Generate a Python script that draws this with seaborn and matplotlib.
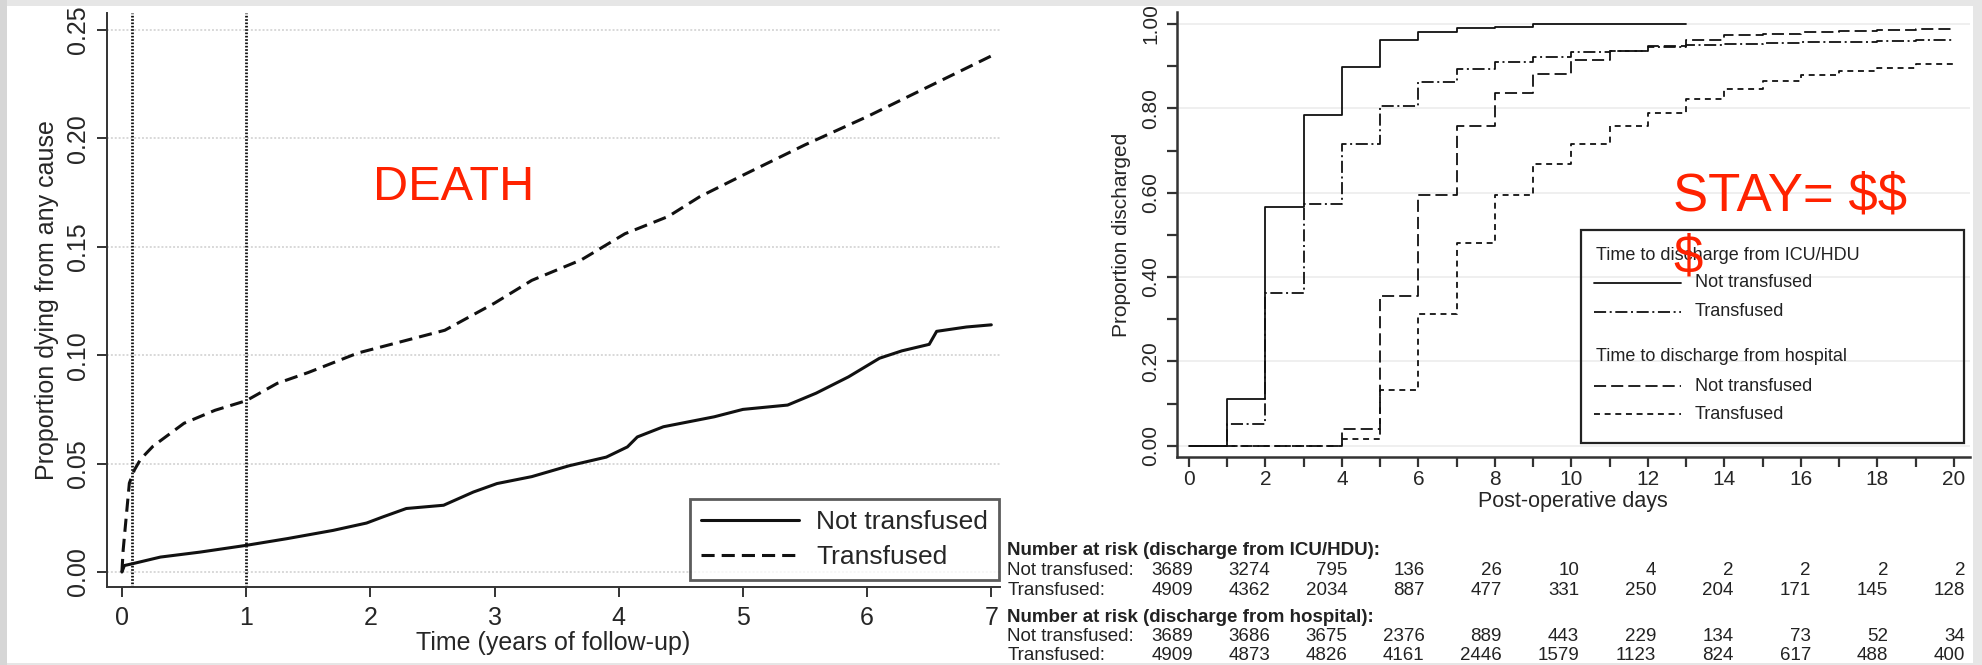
import numpy as np
import pandas as pd
import matplotlib
matplotlib.use("Agg")
import matplotlib.pyplot as plt
import matplotlib.transforms as mtransforms
from matplotlib.patches import Rectangle
from matplotlib.lines import Line2D
from matplotlib.ticker import MultipleLocator, FormatStrFormatter
import seaborn as sns

# --- DATA: left panel, cumulative mortality by years of follow-up ---
years_not = [0, 0.02, 0.09, 0.31, 0.63, 1.0, 1.33, 1.7, 1.97, 2.1, 2.29, 2.59, 2.83, 3.02,
             3.3, 3.6, 3.9, 4.07, 4.15, 4.36, 4.77, 5.0, 5.36, 5.59, 5.85, 6.1, 6.28, 6.5,
             6.56, 6.8, 7.0]
death_not = [0, 0.003, 0.0039, 0.0069, 0.0092, 0.0123, 0.0154, 0.0192, 0.0226, 0.0254, 0.0293,
             0.0308, 0.0369, 0.0408, 0.0440, 0.0490, 0.0530, 0.0577, 0.0623, 0.0670, 0.0716,
             0.0750, 0.0770, 0.0825, 0.0900, 0.0986, 0.1020, 0.1050, 0.1110, 0.1130, 0.1140]

years_tr = [0, 0.01, 0.03, 0.06, 0.1, 0.15, 0.25, 0.5, 0.75, 1.0, 1.25, 1.5, 1.9, 2.3, 2.6,
            3.0, 3.3, 3.7, 4.05, 4.4, 4.65, 5.0, 5.5, 6.0, 6.5, 7.0]
death_tr = [0, 0.010, 0.0225, 0.041, 0.047, 0.052, 0.058, 0.0686, 0.0746, 0.079, 0.087, 0.092,
            0.101, 0.107, 0.1115, 0.124, 0.1345, 0.144, 0.156, 0.164, 0.173, 0.183, 0.197,
            0.210, 0.224, 0.238]

landmarks = [30 / 365.25, 1.0]

# --- DATA: right panel, proportion discharged by post-operative day ---
days_icu_not = list(range(0, 14))
icu_not = [0, 0.111, 0.567, 0.784, 0.899, 0.962, 0.980, 0.990, 0.994, 0.999, 1.0, 1.0, 1.0, 1.0]
days_all = list(range(0, 21))
icu_tr = [0, 0.051, 0.361, 0.573, 0.715, 0.806, 0.863, 0.893, 0.911, 0.921, 0.933, 0.937,
          0.946, 0.950, 0.952, 0.954, 0.957, 0.958, 0.960, 0.961, 0.962]
hosp_not = [0, 0, 0, 0, 0.040, 0.355, 0.594, 0.759, 0.836, 0.881, 0.915, 0.937, 0.948, 0.962,
            0.974, 0.977, 0.982, 0.983, 0.986, 0.989, 0.990]
hosp_tr = [0, 0, 0, 0, 0.015, 0.132, 0.312, 0.480, 0.594, 0.667, 0.715, 0.758, 0.790, 0.822,
           0.845, 0.865, 0.879, 0.889, 0.896, 0.906, 0.909]

# number at risk tables
risk_icu_not = [3689, 3274, 795, 136, 26, 10, 4, 2, 2, 2, 2]
risk_icu_tr = [4909, 4362, 2034, 887, 477, 331, 250, 204, 171, 145, 128]
risk_hosp_not = [3689, 3686, 3675, 2376, 889, 443, 229, 134, 73, 52, 34]
risk_hosp_tr = [4909, 4873, 4826, 4161, 2446, 1579, 1123, 824, 617, 488, 400]

RED = "#ff2200"
INK = "#111111"

sns.set_style("ticks")
plt.rcParams["font.family"] = ["Liberation Sans", "DejaVu Sans"]

W, H = 1982, 665
fig = plt.figure(figsize=(W / 100, H / 100), dpi=100)
fig.patch.set_facecolor("#e6e6e6")
fig.patches.append(Rectangle((7 / W, 2 / H), 1966 / W, 657 / H, transform=fig.transFigure,
                             facecolor="white", edgecolor="none", zorder=-2))
fig.patches.append(Rectangle((0, 0), 7 / W, 1, transform=fig.transFigure,
                             facecolor="#d6d6d6", edgecolor="none", zorder=-2))


def px_axes(x0, y0, x1, y1):
    # pixel box (top-left origin) -> figure axes
    return fig.add_axes([x0 / W, (H - y1) / H, (x1 - x0) / W, (y1 - y0) / H])


# --- LEFT PANEL ---
ax1 = px_axes(107, 13, 1000, 587)
ax1.set_facecolor("none")
left_df = pd.concat([
    pd.DataFrame({"t": years_not, "p": death_not, "grp": "Not transfused"}),
    pd.DataFrame({"t": years_tr, "p": death_tr, "grp": "Transfused"}),
])
sns.lineplot(data=left_df[left_df.grp == "Not transfused"], x="t", y="p", ax=ax1,
             color=INK, lw=2.2, estimator=None, sort=False, label="Not transfused")
sns.lineplot(data=left_df[left_df.grp == "Transfused"], x="t", y="p", ax=ax1,
             color=INK, lw=2.2, estimator=None, sort=False, label="Transfused",
             linestyle=(0, (4.3, 2.3)))
for lm in landmarks:
    ax1.axvline(lm, color=INK, lw=2.0, linestyle=(0, (0.6, 0.6)), zorder=1)

ax1.set_xlim(-0.12, 7.07)
ax1.set_ylim(-0.0069, 0.2578)
ax1.set_xticks(range(0, 8))
ax1.set_yticks(np.arange(0, 0.26, 0.05))
ax1.yaxis.set_major_formatter(FormatStrFormatter("%.2f"))
ax1.yaxis.grid(True, color="#d8d8d8", linestyle=(0, (1, 1)), lw=1.4)
ax1.set_axisbelow(True)
ax1.tick_params(axis="both", labelsize=18, length=7, width=1.4, color="#333333")
ax1.tick_params(axis="x", pad=7)
ax1.tick_params(axis="y", pad=5, labelrotation=90)
plt.setp(ax1.get_yticklabels(), va="center")
for s in ["top", "right"]:
    ax1.spines[s].set_visible(False)
for s in ["left", "bottom"]:
    ax1.spines[s].set_linewidth(1.4)
    ax1.spines[s].set_color("#333333")
ax1.set_xlabel("Time (years of follow-up)", fontsize=18, va="center")
ax1.set_ylabel("Proportion dying from any cause", fontsize=18, va="center")
ax1.xaxis.set_label_coords(0.5, -0.0976)
ax1.yaxis.set_label_coords(-0.0672, 0.5)
leg = ax1.legend(loc="lower right", bbox_to_anchor=(999 / W, 85 / H),
                 bbox_transform=fig.transFigure, fontsize=19, frameon=True, fancybox=False,
                 handlelength=3.7, handletextpad=0.65, labelspacing=0.4, borderpad=0.42,
                 borderaxespad=0)
leg.get_frame().set_edgecolor("#333333")
leg.get_frame().set_linewidth(2)
ax1.text(0.388, 0.674, "DEATH", transform=ax1.transAxes, ha="center", va="baseline",
         fontsize=35, color=RED)

# --- RIGHT PANEL ---
ax2 = px_axes(1176.7, 12, 1970, 457.3)
ax2.set_facecolor("none")
styles = [
    (days_icu_not, icu_not, "-"),
    (days_all, icu_tr, (0, (6.7, 2.0, 1.1, 2.0))),
    (days_all, hosp_not, (0, (6.7, 2.8))),
    (days_all, hosp_tr, (0, (3.3, 2.6))),
]
for xs, ys, ls in styles:
    sns.lineplot(x=xs, y=ys, ax=ax2, color=INK, lw=1.3, linestyle=ls,
                 drawstyle="steps-post", estimator=None, sort=False)

ax2.set_xlim(-0.32, 20.42)
ax2.set_ylim(-0.0275, 1.0285)
ax2.xaxis.set_major_locator(MultipleLocator(2))
ax2.xaxis.set_minor_locator(MultipleLocator(1))
ax2.yaxis.set_major_locator(MultipleLocator(0.2))
ax2.yaxis.set_minor_locator(MultipleLocator(0.1))
ax2.yaxis.set_major_formatter(FormatStrFormatter("%.2f"))
ax2.yaxis.grid(True, which="major", color="#ececec", lw=1.2)
ax2.set_axisbelow(True)
ax2.tick_params(axis="both", which="both", labelsize=15, length=7, width=1.6, color="#333333")
ax2.tick_params(axis="x", pad=2)
ax2.tick_params(axis="y", pad=5, labelrotation=90)
plt.setp(ax2.get_yticklabels(), va="center")
for s in ["top", "right"]:
    ax2.spines[s].set_visible(False)
for s in ["left", "bottom"]:
    ax2.spines[s].set_linewidth(1.8)
    ax2.spines[s].set_color("#333333")
ax2.set_xlabel("Post-operative days", fontsize=15.5, va="center")
ax2.set_ylabel("Proportion discharged", fontsize=15, va="center")
ax2.xaxis.set_label_coords(0.5, -0.0997)
ax2.yaxis.set_label_coords(-0.069, 0.5)

# legend box drawn in axes fraction
ta = ax2.transAxes
ax2.add_patch(Rectangle((0.510, 0.032), 0.4824, 0.4784, transform=ta, fill=False,
                        edgecolor="#222222", lw=1.6, clip_on=False, zorder=5))
ax2.text(0.529, 0.4543, "Time to discharge from ICU/HDU", transform=ta, fontsize=13,
         va="center", color="#222222")
ax2.text(0.529, 0.2255, "Time to discharge from hospital", transform=ta, fontsize=13,
         va="center", color="#222222")
for (xs, ys, ls), yy, lab in zip(styles, [0.3919, 0.3263, 0.1601, 0.0966],
                                 ["Not transfused", "Transfused", "Not transfused", "Transfused"]):
    ax2.add_line(Line2D([0.5255, 0.6357], [yy, yy], transform=ta, color=INK, lw=1.3,
                        linestyle=ls, clip_on=False))
    ax2.text(0.6534, yy, lab, transform=ta, fontsize=13, va="center", color="#222222")

# baseline of the last line ("$")
ax2.text(0.6256, 0.4139, "STAY= $$\n$", transform=ta, fontsize=38, color=RED,
         va="baseline", ha="left", linespacing=1.31, zorder=6, parse_math=False)

# number at risk table below the right panel
blend = mtransforms.blended_transform_factory(ax2.transData, ax2.transAxes)
cols = np.linspace(0.1, 20.3, len(risk_icu_not))
rows = [
    ("Number at risk (discharge from ICU/HDU):", None, -0.2104),
    ("Not transfused:", risk_icu_not, -0.2547),
    ("Transfused:", risk_icu_tr, -0.3002),
    ("Number at risk (discharge from hospital):", None, -0.3593),
    ("Not transfused:", risk_hosp_not, -0.4029),
    ("Transfused:", risk_hosp_tr, -0.4462),
]
for lab, vals, yy in rows:
    ax2.text(-4.745, yy, lab, transform=blend, fontsize=13.5, va="center", ha="left",
             fontweight="bold" if vals is None else "normal", color="#222222")
    if vals is not None:
        for cx, v in zip(cols, vals):
            ax2.text(cx, yy, str(v), transform=blend, fontsize=13.5, va="center", ha="right",
                     color="#222222")

fig.savefig("out.png", dpi=100, facecolor=fig.get_facecolor())
